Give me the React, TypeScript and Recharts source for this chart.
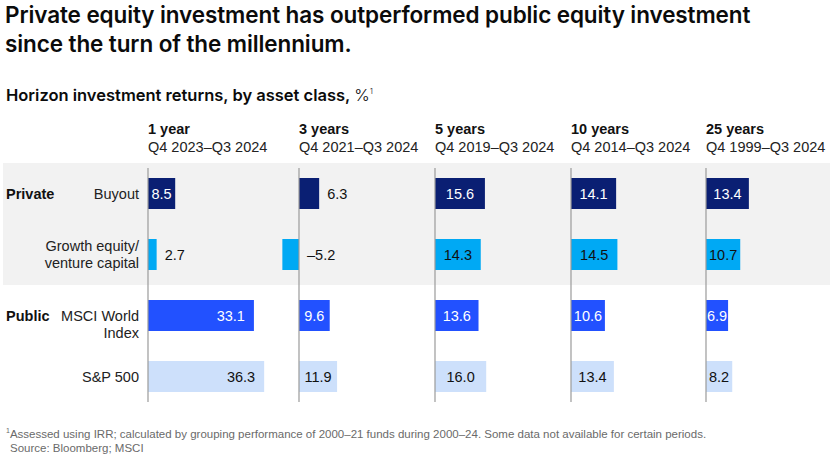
import React from "react";
import { BarChart, Bar, XAxis, YAxis, Cell, LabelList, ReferenceLine } from "recharts";

// ---- data ----
const categories = ["Buyout", "Growth equity/\nventure capital", "MSCI World\nIndex", "S&P 500"];
const groups = ["Private", "", "Public", ""];
const periods = ["1 year", "3 years", "5 years", "10 years", "25 years"];
const periodRanges = ["Q4 2023–Q3 2024", "Q4 2021–Q3 2024", "Q4 2019–Q3 2024", "Q4 2014–Q3 2024", "Q4 1999–Q3 2024"];
const buyout = [8.5, 6.3, 15.6, 14.1, 13.4];
const growthVC = [2.7, -5.2, 14.3, 14.5, 10.7];
const msciWorld = [33.1, 9.6, 13.6, 10.6, 6.9];
const sp500 = [36.3, 11.9, 16.0, 13.4, 8.2];

const series = [buyout, growthVC, msciWorld, sp500];
const barColors = ["#0a1f73", "#00a9f4", "#2251ff", "#cde0fb"];
const labelColors = ["#ffffff", "#111111", "#ffffff", "#111111"];

// ---- layout ----
const W = 830;
const H = 462;
const PX_PER_UNIT = 3.2;
const zeroX = [148, 299, 435, 571, 706];
const plotTop = 163;
const plotH = 244;
const FONT = "'Liberation Sans', Arial, sans-serif";
const TITLE_FONT = "Inter, 'Noto Sans', sans-serif";

const fmt = (v: number) => (v < 0 ? "–" + Math.abs(v).toFixed(1) : v.toFixed(1));

const makeLabel = (rowColors: string[]) => (props: any) => {
  const { x, y, width, height, value, index } = props;
  const v = Number(value);
  const left = Math.min(Number(x), Number(x) + Number(width));
  const right = Math.max(Number(x), Number(x) + Number(width));
  const barW = right - left;
  const text = fmt(v);
  const textW = text.length * 6.6;
  const cy = Number(y) + Number(height) / 2;
  let tx = 0;
  let anchor: "start" | "middle" | "end" = "middle";
  let fill = rowColors[index] ?? "#111";
  if (v < 0) {
    tx = right + 8;
    anchor = "start";
    fill = "#111111";
  } else if (barW < textW + 2) {
    tx = right + 8;
    anchor = "start";
    fill = "#111111";
  } else if (barW > 80) {
    tx = right - 9;
    anchor = "end";
  } else {
    tx = left + barW / 2;
    anchor = "middle";
  }
  return (
    <text x={tx} y={cy} dy="0.36em" textAnchor={anchor} fill={fill} fontSize={14.5} fontFamily={FONT}>
      {text}
    </text>
  );
};

const RowTick = (props: any) => {
  const { x, y, payload, index } = props;
  const lines = String(payload.value).split("\n");
  const group = groups[index];
  const lh = 17;
  const startDy = group ? 0 : -((lines.length - 1) * lh) / 2;
  return (
    <g>
      {group ? (
        <text x={6} y={y} dy="0.36em" textAnchor="start" fontWeight={700} fontSize={14.5} fill="#111" fontFamily={FONT}>
          {group}
        </text>
      ) : null}
      {lines.map((ln, i) => (
        <text key={i} x={x} y={y + startDy + i * lh} dy="0.36em" textAnchor="end" fontSize={14.5} fill="#222" fontFamily={FONT}>
          {ln}
        </text>
      ))}
    </g>
  );
};

const zeroLine = (p: any) => (
  <line x1={p.x1} x2={p.x2} y1={Math.min(p.y1, p.y2) + 5} y2={Math.max(p.y1, p.y2) - 5} stroke="#9a9a9a" strokeWidth={1.2} />
);

const Column = ({ col }: { col: number }) => {
  const data = categories.map((c, i) => ({ name: c, value: series[i][col] }));
  const first = col === 0;
  const domain: [number, number] = first ? [0, 40] : [-10, 30];
  const yW = first ? zeroX[0] : 0;
  const width = yW + (domain[1] - domain[0]) * PX_PER_UNIT;
  const left = first ? 0 : zeroX[col] - -domain[0] * PX_PER_UNIT;
  return (
    <div style={{ position: "absolute", left, top: plotTop, width, height: plotH }}>
      <BarChart
        width={width}
        height={plotH}
        data={data}
        layout="vertical"
        margin={{ top: 0, right: 0, bottom: 0, left: 0 }}
        barCategoryGap={0}
      >
        <XAxis type="number" domain={domain} hide allowDataOverflow />
        <YAxis
          type="category"
          dataKey="name"
          width={yW}
          hide={!first}
          axisLine={false}
          tickLine={false}
          tickSize={0}
          tickMargin={9}
          interval={0}
          tick={<RowTick />}
        />
        <Bar dataKey="value" barSize={31} isAnimationActive={false}>
          {data.map((d, i) => (
            <Cell key={i} fill={barColors[i]} />
          ))}
          <LabelList dataKey="value" content={makeLabel(labelColors)} />
        </Bar>
        <ReferenceLine x={0} stroke="#9a9a9a" shape={zeroLine} />
      </BarChart>
    </div>
  );
};

export default function App() {
  return (
    <div style={{ position: "relative", width: W, height: H, background: "#fff", fontFamily: FONT, color: "#111", overflow: "hidden" }}>
      <style>{`body{margin:0}`}</style>
      <div style={{ position: "absolute", left: 5, top: 0, fontFamily: TITLE_FONT, fontWeight: 600, fontSize: 22.5, lineHeight: "29px", color: "#0b0b0b", letterSpacing: -0.1, whiteSpace: "nowrap" }}>
        <div>Private equity investment has outperformed public equity investment</div>
        <div>since the turn of the millennium.</div>
      </div>
      <div style={{ position: "absolute", left: 6, top: 80, fontFamily: TITLE_FONT, fontSize: 16.5, lineHeight: "22px", color: "#0b0b0b", whiteSpace: "nowrap" }}>
        <span style={{ fontWeight: 600 }}>Horizon investment returns, by asset class, </span>
        <span style={{ fontWeight: 300 }}>%</span>
        <sup style={{ fontSize: 8, fontWeight: 300 }}>1</sup>
      </div>
      <div style={{ position: "absolute", left: 3, top: 163, width: W - 3, height: 122, background: "#f2f2f2" }} />
      {periods.map((p, i) => (
        <div key={p} style={{ position: "absolute", left: zeroX[i], top: 120, fontSize: 14.5, lineHeight: "18px", whiteSpace: "nowrap" }}>
          <div style={{ fontWeight: 700 }}>{p}</div>
          <div style={{ color: "#222" }}>{periodRanges[i]}</div>
        </div>
      ))}
      {periods.map((p, i) => (
        <Column key={p} col={i} />
      ))}
      <div style={{ position: "absolute", left: 6, top: 424, fontSize: 11.5, lineHeight: "14px", color: "#6a6a6a", whiteSpace: "nowrap" }}>
        <div>
          <sup style={{ fontSize: 7 }}>1</sup>Assessed using IRR; calculated by grouping performance of 2000–21 funds during 2000–24. Some data not available for certain periods.
        </div>
        <div style={{ paddingLeft: 4 }}>Source: Bloomberg; MSCI</div>
      </div>
    </div>
  );
}
